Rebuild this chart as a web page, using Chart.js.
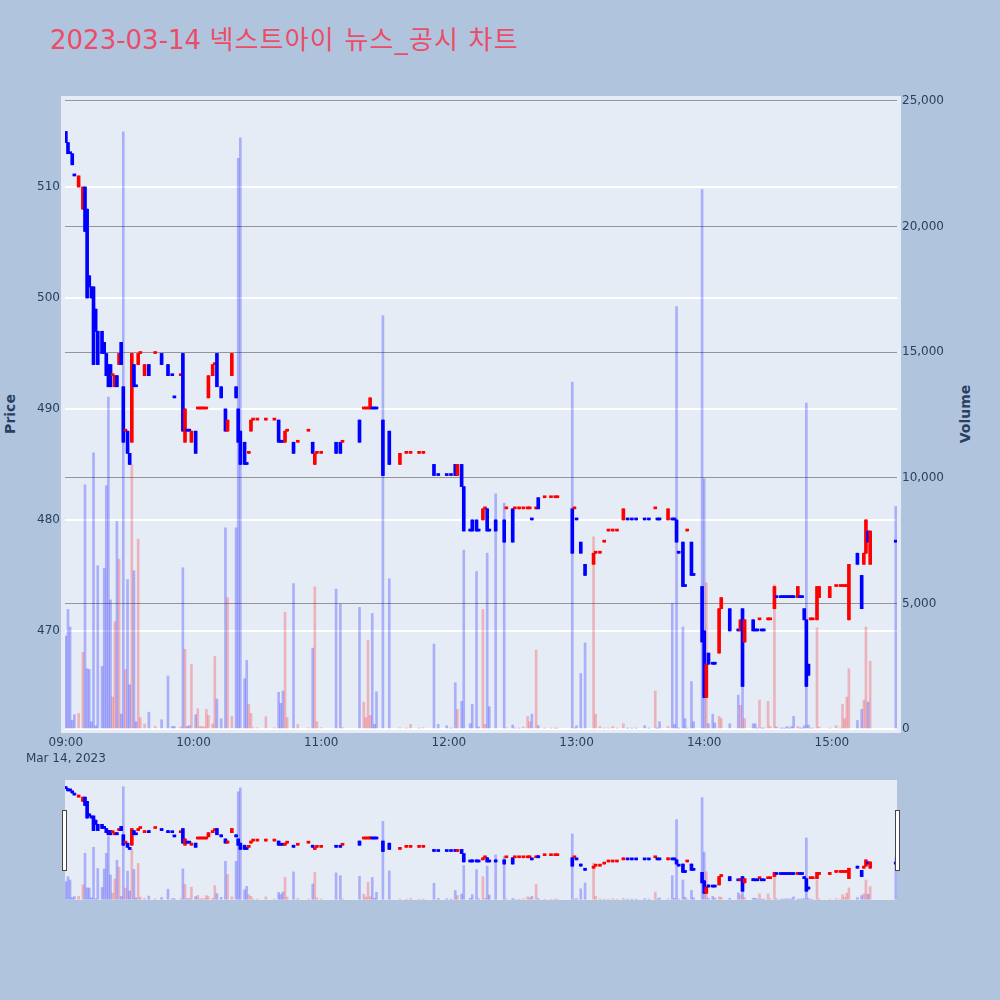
<!DOCTYPE html>
<html>
<head>
<meta charset="utf-8">
<script src="https://cdn.jsdelivr.net/npm/chart.js@4.4.0/dist/chart.umd.min.js"></script>
<style>
  body { margin: 0; width: 1000px; height: 1000px; background: #b0c4de; position: relative; overflow: hidden;
         font-family: "DejaVu Sans", "Noto Sans CJK KR", sans-serif; }
  #title { position: absolute; left: 50px; top: 27px; font-size: 26px; line-height: 26px; color: #eb4d68; white-space: nowrap; }
  #title .ko { letter-spacing: 1.2px; }
  .axis-title { position: absolute; font-size: 14px; font-weight: bold; color: #2a3f5f; transform: translate(-50%, -50%) rotate(-90deg); white-space: nowrap; }
  #main { position: absolute; left: 0; top: 0; }
  #slider { position: absolute; left: 0; top: 780px; }
</style>
</head>
<body>
<div id="title">2023-03-14 <span class="ko">넥스트아이 뉴스_공시 차트</span></div>
<div class="axis-title" style="left:10px; top:414px;">Price</div>
<div class="axis-title" style="left:965px; top:414px;">Volume</div>
<canvas id="main" width="1000" height="770"></canvas>
<canvas id="slider" width="1000" height="120"></canvas>
<script>
// minute candles
const times = [
  "09:00","09:01","09:02","09:03","09:04","09:06","09:08","09:09","09:10","09:11","09:12","09:13","09:14","09:15","09:17","09:18","09:19","09:20","09:21","09:22",
  "09:23","09:24","09:25","09:26","09:27","09:28","09:29","09:30","09:31","09:32","09:33","09:34","09:35","09:37","09:39","09:42","09:45","09:48","09:50","09:51",
  "09:54","09:55","09:56","09:57","09:58","09:59","10:01","10:02","10:03","10:04","10:05","10:06","10:07","10:09","10:10","10:11","10:13","10:15","10:16","10:18",
  "10:20","10:21","10:22","10:24","10:25","10:26","10:27","10:28","10:30","10:34","10:38","10:40","10:41","10:42","10:43","10:44","10:47","10:49","10:54","10:56",
  "10:57","10:58","11:00","11:07","11:09","11:10","11:18","11:20","11:21","11:22","11:23","11:24","11:25","11:26","11:29","11:32","11:37","11:40","11:42","11:46",
  "11:48","11:53","11:55","11:59","12:01","12:03","12:04","12:06","12:07","12:10","12:11","12:13","12:14","12:16","12:17","12:18","12:19","12:22","12:26","12:27",
  "12:30","12:31","12:33","12:35","12:37","12:38","12:39","12:41","12:42","12:45","12:48","12:50","12:51","12:58","12:59","13:00","13:02","13:04","13:08","13:09",
  "13:11","13:13","13:15","13:17","13:19","13:22","13:24","13:26","13:28","13:32","13:34","13:37","13:38","13:39","13:43","13:45","13:46","13:47","13:48","13:50",
  "13:51","13:52","13:54","13:55","13:59","14:00","14:01","14:02","14:04","14:05","14:07","14:08","14:12","14:16","14:17","14:18","14:19","14:23","14:24","14:25",
  "14:26","14:27","14:28","14:30","14:31","14:33","14:34","14:36","14:37","14:38","14:39","14:40","14:41","14:42","14:44","14:45","14:46","14:47","14:48","14:49",
  "14:50","14:51","14:53","14:54","14:59","15:02","15:04","15:05","15:06","15:07","15:08","15:12","15:14","15:15","15:16","15:17","15:18","15:30"
];
const open = [
  515,514,513,513,511,510,508,510,508,502,501,501,499,497,497,496,495,494,494,493,
  492,493,494,496,492,488,488,486,487,494,492,494,495,493,494,495,495,494,493,491,
  493,495,487,488,488,487,488,490,490,490,490,490,491,493,494,495,492,490,488,493,
  492,490,488,487,485,486,488,489,489,489,489,489,487,487,487,488,487,487,488,487,
  485,486,486,487,487,487,489,490,490,490,490,490,490,490,489,488,485,486,486,486,
  486,485,484,484,484,485,484,485,483,479,480,480,479,480,481,481,479,480,480,481,
  481,481,481,481,481,481,480,481,482,482,482,482,482,481,481,480,478,476,476,477,
  477,478,479,479,479,480,480,480,480,480,480,481,480,480,480,480,480,480,477,478,
  474,479,478,475,474,470,464,468,467,467,468,472,472,470,470,472,469,471,470,470,
  471,470,470,471,471,472,473,473,473,473,473,473,473,473,473,473,473,472,471,467,
  471,471,471,473,473,474,474,474,474,474,471,477,475,476,477,479,476,478
];
const high = [
  515,514,513,513,511,511,510,510,508,502,501,501,499,497,497,496,495,494,494,493,
  493,493,495,496,492,488,488,486,495,494,492,495,495,494,494,495,495,494,493,491,
  493,495,490,488,488,488,488,490,490,490,490,490,493,494,494,495,492,490,489,495,
  492,490,488,487,485,486,489,489,489,489,489,489,487,487,488,488,487,487,488,487,
  486,486,486,487,487,487,489,490,490,490,491,490,490,490,489,488,486,486,486,486,
  486,485,484,484,484,485,485,485,483,479,480,480,479,481,481,481,479,480,480,481,
  481,481,481,481,481,481,480,481,482,482,482,482,482,481,481,480,478,476,477,477,
  477,478,479,479,479,481,480,480,480,480,480,481,480,480,481,480,480,480,477,478,
  474,479,478,475,474,470,467,468,467,467,472,473,472,470,471,472,471,471,470,470,
  471,470,470,471,471,474,473,473,473,473,473,473,473,473,474,473,473,472,471,467,
  471,471,474,474,474,474,474,474,474,474,476,477,475,477,480,479,479,478
];
const low = [
  514,513,513,512,511,510,508,506,500,501,500,494,497,494,495,495,493,492,492,493,
  492,492,494,494,487,488,486,485,487,492,492,494,495,493,493,495,494,493,493,491,
  493,488,487,488,488,487,486,490,490,490,490,490,491,493,494,492,491,488,488,493,
  491,487,485,485,485,486,488,489,489,489,489,487,487,487,487,488,486,487,488,486,
  485,486,486,486,486,487,487,490,490,490,490,490,490,490,484,485,485,486,486,486,
  486,484,484,484,484,484,484,483,479,479,479,479,479,480,481,479,479,479,478,481,
  478,481,481,481,481,481,480,481,481,482,482,482,482,477,481,480,477,475,476,477,
  477,478,479,479,479,480,480,480,480,480,480,481,480,480,480,480,480,478,477,474,
  474,479,475,475,469,464,464,467,467,467,468,472,470,470,470,465,469,470,470,470,
  471,470,470,471,471,472,473,473,473,473,473,473,473,473,473,473,473,471,465,466,
  471,471,471,473,473,474,474,474,474,474,471,476,472,476,477,478,476,478
];
const close = [
  514,513,513,512,511,511,510,506,500,501,500,494,497,494,495,495,493,492,492,493,
  493,492,495,494,487,488,486,485,495,492,492,495,495,494,493,495,494,493,493,491,
  493,488,490,488,488,488,486,490,490,490,490,490,493,494,494,492,491,488,489,495,
  491,487,485,485,485,486,489,489,489,489,489,487,487,487,488,488,486,487,488,486,
  486,486,486,486,486,487,487,490,490,490,491,490,490,490,484,485,486,486,486,486,
  486,484,484,484,484,484,485,483,479,479,479,479,479,481,481,479,479,479,478,481,
  478,481,481,481,481,481,480,481,481,482,482,482,482,477,481,480,477,475,477,477,
  477,478,479,479,479,481,480,480,480,480,480,481,480,480,481,480,480,478,477,474,
  474,479,475,475,469,464,467,467,467,467,472,473,470,470,471,465,471,470,470,470,
  471,470,470,471,471,474,473,473,473,473,473,473,473,473,474,473,473,471,465,466,
  471,471,474,474,474,474,474,474,474,474,476,476,472,477,480,478,479,478
];
const volume = [
  3700,4760,4060,340,570,620,3050,9720,2400,2370,290,10990,130,6500,2490,6390,9690,13210,5140,1270,
  4270,8260,6760,590,23770,2370,5950,1760,10530,6300,290,7560,455,200,670,100,370,2110,100,100,
  80,6420,3170,100,130,2570,570,810,100,100,80,780,540,200,2890,1190,410,8010,5220,500,
  8010,22720,23530,2000,2730,990,620,50,50,490,50,1460,1020,1510,4650,455,5790,180,50,3220,
  5660,290,50,5570,4970,50,4840,1070,455,3540,540,4600,180,1480,16460,5980,50,30,180,30,
  50,3380,180,130,30,1840,780,1100,7120,210,980,6270,80,4760,180,7000,890,9360,8990,50,
  160,30,30,80,500,290,590,3140,130,30,30,30,30,13810,30,130,2210,3430,7650,590,
  100,30,30,100,30,210,30,30,30,130,30,1510,30,290,100,5000,180,16820,30,4060,
  410,30,1890,290,21470,9960,5820,210,590,240,500,410,210,1350,940,4760,410,210,210,30,
  1150,30,30,1100,100,5740,80,30,30,30,100,30,100,500,100,30,30,130,12970,160,
  30,30,4030,80,30,130,30,980,410,1270,2400,340,780,1150,4060,1070,2700,8860
];
const xTickValues = [0, 60, 120, 180, 240, 300, 360];
const xTickLabels = ["09:00", "10:00", "11:00", "12:00", "13:00", "14:00", "15:00"];
const dateLabel = "Mar 14, 2023";
const priceTicks = [470, 480, 490, 500, 510];
const volumeTicks = [0, 5000, 10000, 15000, 20000, 25000];

const UP = "#ff0000", DOWN = "#0000ff";
const toMin = t => { const [h, m] = t.split(":").map(Number); return (h - 9) * 60 + m; };
const xs = times.map(toMin);

// candle direction, equal open/close falls back on the previous close
const isUp = [];
for (let i = 0; i < close.length; i++) {
  let up;
  if (close[i] > open[i]) up = true;
  else if (close[i] < open[i]) up = false;
  else if (i > 0 && close[i] > close[i - 1]) up = true;
  else if (i > 0 && close[i] < close[i - 1]) up = false;
  else up = i > 0 ? isUp[i - 1] : false;
  isUp.push(up);
}

const bodyColors = isUp.map(u => (u ? UP : DOWN));
const volColors = isUp.map(u => (u ? "rgba(255,0,0,0.24)" : "rgba(0,0,255,0.26)"));

function makeDatasets(thick) {
  return [
    {
      label: "body", yAxisID: "y", order: 1, grouped: false,
      data: xs.map((x, i) => ({ x: x, y: [open[i], close[i]] })),
      backgroundColor: bodyColors, borderWidth: 0,
      barThickness: thick, minBarLength: 2
    },
    {
      label: "wick", yAxisID: "y", order: 2, grouped: false,
      data: xs.map((x, i) => ({ x: x, y: [low[i], high[i]] })),
      backgroundColor: bodyColors, borderWidth: 0, barThickness: 1
    },
    {
      label: "volume", yAxisID: "y2", order: 3, grouped: false,
      data: xs.map((x, i) => ({ x: x, y: volume[i] })),
      backgroundColor: volColors, borderWidth: 0, barThickness: 2
    }
  ];
}

const X_MIN = -0.4, X_MAX = 390.6;
const P_MIN = 460.8, P_MAX = 518.2;
const V_MIN = -159, V_MAX = 25199;

const plotBg = {
  id: "plotBg",
  beforeDraw(chart, args, opts) {
    const a = chart.chartArea, c = chart.ctx;
    c.save();
    c.fillStyle = "#e5ecf6";
    c.fillRect(a.left - opts.pad, a.top, a.right - a.left + 2 * opts.pad, a.bottom - a.top);
    c.restore();
  }
};

Chart.defaults.font.family = '"DejaVu Sans", "Noto Sans CJK KR", sans-serif';
Chart.defaults.font.size = 12;
Chart.defaults.color = "#2a3f5f";

new Chart(document.getElementById("main"), {
  type: "bar",
  data: { datasets: makeDatasets(3) },
  plugins: [plotBg],
  options: {
    responsive: false, animation: false,
    layout: { padding: { top: 96, left: 0, right: 0, bottom: 0 } },
    plugins: { legend: { display: false }, tooltip: { enabled: false }, plotBg: { pad: 4 } },
    scales: {
      x: {
        type: "linear", min: X_MIN, max: X_MAX, offset: false,
        grid: { display: false, drawTicks: false }, border: { display: false },
        afterBuildTicks: s => { s.ticks = xTickValues.map(v => ({ value: v })); },
        afterFit: s => { s.height = 37; },
        ticks: {
          autoSkip: false, maxRotation: 0, padding: 2,
          font: { size: 12, lineHeight: 1.35 },
          callback: v => {
            const i = xTickValues.indexOf(v);
            return i === 0 ? [xTickLabels[i], dateLabel] : xTickLabels[i];
          }
        }
      },
      y: {
        position: "left", min: P_MIN, max: P_MAX,
        afterBuildTicks: s => { s.ticks = priceTicks.map(v => ({ value: v })); },
        afterFit: s => { s.width = 65; },
        grid: { color: "#ffffff", lineWidth: 2, drawTicks: false },
        border: { display: false },
        ticks: { padding: 5 }
      },
      y2: {
        position: "right", min: V_MIN, max: V_MAX,
        afterBuildTicks: s => { s.ticks = volumeTicks.map(v => ({ value: v })); },
        afterFit: s => { s.width = 103; },
        grid: {
          drawTicks: false,
          color: c => (c.tick && c.tick.value === 0 ? "#ffffff" : "rgba(120,120,120,0.75)"),
          lineWidth: c => (c.tick && c.tick.value === 0 ? 2 : 1)
        },
        border: { display: false },
        ticks: { padding: 5, callback: v => v.toLocaleString("en-US") }
      }
    }
  }
});

const handles = {
  id: "handles",
  afterDraw(chart) {
    const a = chart.chartArea, c = chart.ctx;
    c.save();
    c.fillStyle = "#ffffff";
    c.strokeStyle = "#444444";
    c.lineWidth = 1;
    [a.left - 2.5, a.right - 1.5].forEach(x => {
      c.fillRect(x, 30.5, 4, 60);
      c.strokeRect(x, 30.5, 4, 60);
    });
    c.restore();
  }
};

new Chart(document.getElementById("slider"), {
  type: "bar",
  data: { datasets: makeDatasets(3) },
  plugins: [plotBg, handles],
  options: {
    responsive: false, animation: false,
    layout: { padding: { top: 0, left: 65, right: 103, bottom: 0 } },
    plugins: { legend: { display: false }, tooltip: { enabled: false }, plotBg: { pad: 0 } },
    scales: {
      x: { type: "linear", min: X_MIN, max: X_MAX, offset: false, display: false },
      y: { min: P_MIN, max: P_MAX, display: false },
      y2: { position: "right", min: V_MIN, max: V_MAX, display: false }
    }
  }
});
</script>
</body>
</html>
